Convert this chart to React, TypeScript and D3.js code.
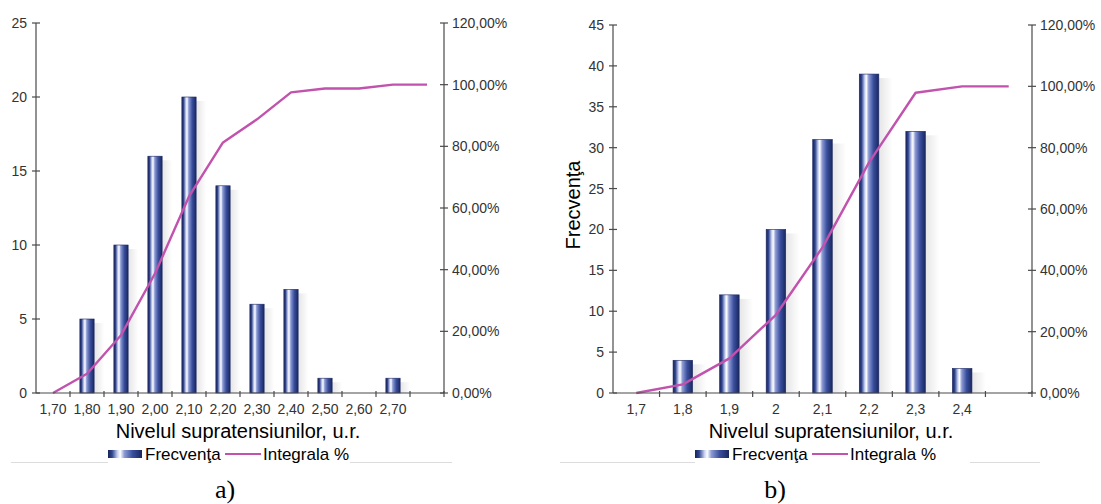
import React from "react";
import * as d3 from "d3";

// chart a)
const catsA = ["1,70", "1,80", "1,90", "2,00", "2,10", "2,20", "2,30", "2,40", "2,50", "2,60", "2,70", ""];
const freqA = [0, 5, 10, 16, 20, 14, 6, 7, 1, 0, 1, 0];
const integA = [0, 6.25, 18.75, 38.75, 63.75, 81.25, 88.75, 97.5, 98.75, 98.75, 100, 100];
const ticksA = [0, 5, 10, 15, 20, 25];

// chart b)
const catsB = ["1,7", "1,8", "1,9", "2", "2,1", "2,2", "2,3", "2,4", ""];
const freqB = [0, 4, 12, 20, 31, 39, 32, 3, 0];
const integB = [0, 2.8, 11.3, 25.5, 47.5, 75.2, 97.9, 100, 100];
const ticksB = [0, 5, 10, 15, 20, 25, 30, 35, 40, 45];

const pctTicks = [0, 20, 40, 60, 80, 100, 120];

const FONT = "'Liberation Sans', Arial, sans-serif";
const LINE = "#c152ad";
const fmtPct = (v: number) => d3.format(".2f")(v).replace(".", ",") + "%";

type ChartProps = {
  id: string;
  cats: string[];
  freq: number[];
  integ: number[];
  ticks: number[];
  x0: number;
  x1: number;
  top: number;
  bottom: number;
  titleX: number;
  legendX: number;
  yTitle?: string;
  yTitleX?: number;
  caption: string;
  captionX: number;
  gapFrom: number;
  gapTo: number;
  lineFrom: number;
  lineTo: number;
};

function Chart(p: ChartProps) {
  const x = d3.scaleBand<string>().domain(p.cats.map((c, i) => i + "|" + c)).range([p.x0, p.x1]).paddingInner(0).paddingOuter(0);
  const keys = x.domain();
  const bw = x.bandwidth();
  const barW = bw * 0.42;
  const y = d3.scaleLinear().domain([0, d3.max(p.ticks)!]).range([p.bottom, p.top]);
  const y2 = d3.scaleLinear().domain([0, 120]).range([p.bottom, p.top]);
  const line = d3
    .line<number>()
    .x((_, i) => x(keys[i])! + bw / 2)
    .y((d) => y2(d));
  const axisColor = "#4a4a4a";
  const labelColor = "#333";
  const lx = p.legendX;

  return (
    <g>
      <defs>
        <linearGradient id={p.id + "bar"} x1="0" x2="1" y1="0" y2="0">
          <stop offset="0%" stopColor="#17245a" />
          <stop offset="12%" stopColor="#30458f" />
          <stop offset="28%" stopColor="#c9d2f2" />
          <stop offset="36%" stopColor="#ffffff" />
          <stop offset="48%" stopColor="#8d9bd4" />
          <stop offset="72%" stopColor="#3a4f9e" />
          <stop offset="100%" stopColor="#18275f" />
        </linearGradient>
        <linearGradient id={p.id + "shadow"} x1="0" x2="1" y1="0" y2="0">
          <stop offset="0%" stopColor="#000" stopOpacity={0.1} />
          <stop offset="100%" stopColor="#000" stopOpacity={0} />
        </linearGradient>
      </defs>

      {/* bars */}
      {p.freq.map((v, i) =>
        v > 0 ? (
          <g key={"b" + i}>
            <rect
              x={x(keys[i])! + bw / 2 + barW / 2}
              y={y(v) + 4}
              width={bw * 0.3}
              height={p.bottom - y(v) - 4}
              fill={`url(#${p.id}shadow)`}
            />
            <rect
              x={x(keys[i])! + bw / 2 - barW / 2}
              y={y(v)}
              width={barW}
              height={p.bottom - y(v)}
              fill={`url(#${p.id}bar)`}
              stroke="#1a2660"
              strokeWidth={0.6}
            />
          </g>
        ) : null
      )}

      {/* cumulative line */}
      <path d={line(p.integ)!} fill="none" stroke={LINE} strokeWidth={2.4} strokeLinejoin="round" />

      {/* left axis */}
      <line x1={p.x0} x2={p.x0} y1={p.top} y2={p.bottom} stroke={axisColor} strokeWidth={1.2} />
      {p.ticks.map((t) => (
        <g key={"l" + t}>
          <line x1={p.x0 - 4} x2={p.x0 + 4} y1={y(t)} y2={y(t)} stroke={axisColor} strokeWidth={1.2} />
          <text x={p.x0 - 9} y={y(t) + 5} textAnchor="end" fontSize={14} fill={labelColor} fontFamily={FONT}>
            {t}
          </text>
        </g>
      ))}

      {/* right axis */}
      <line x1={p.x1} x2={p.x1} y1={p.top} y2={p.bottom} stroke={axisColor} strokeWidth={1.2} />
      {pctTicks.map((t) => (
        <g key={"r" + t}>
          <line x1={p.x1 - 4} x2={p.x1 + 4} y1={y2(t)} y2={y2(t)} stroke={axisColor} strokeWidth={1.2} />
          <text x={p.x1 + 8} y={y2(t) + 5} fontSize={14} fill={labelColor} fontFamily={FONT}>
            {fmtPct(t)}
          </text>
        </g>
      ))}

      {/* x axis */}
      <line x1={p.x0} x2={p.x1} y1={p.bottom} y2={p.bottom} stroke={axisColor} strokeWidth={1.2} />
      {keys.map((k, i) => (
        <g key={"x" + i}>
          <line x1={x(k)! + bw} x2={x(k)! + bw} y1={p.bottom - 2} y2={p.bottom + 4} stroke={axisColor} strokeWidth={1.2} />
          <text x={x(k)! + bw / 2} y={p.bottom + 21} textAnchor="middle" fontSize={14} fill={labelColor} fontFamily={FONT}>
            {p.cats[i]}
          </text>
        </g>
      ))}

      {/* axis titles */}
      <text x={p.titleX} y={438} textAnchor="middle" fontSize={20} fill="#000" fontFamily={FONT}>
        Nivelul supratensiunilor, u.r.
      </text>
      {p.yTitle ? (
        <text
          transform={`translate(${p.yTitleX},${(p.top + p.bottom) / 2 - 4}) rotate(-90)`}
          textAnchor="middle"
          fontSize={20}
          fill="#000"
          fontFamily={FONT}
        >
          {p.yTitle}
        </text>
      ) : null}

      {/* faint frame line under legend */}
      <line x1={p.lineFrom} x2={p.gapFrom} y1={462.5} y2={462.5} stroke="#dcdcdc" strokeWidth={1} />
      <line x1={p.gapTo} x2={p.lineTo} y1={462.5} y2={462.5} stroke="#dcdcdc" strokeWidth={1} />

      {/* legend */}
      <rect x={lx} y={450} width={34} height={8} fill={`url(#${p.id}bar)`} />
      <text x={lx + 37} y={460} fontSize={17} fill="#000" fontFamily={FONT}>
        Frecvenţa
      </text>
      <line x1={lx + 117} x2={lx + 153} y1={454} y2={454} stroke={LINE} strokeWidth={2.2} />
      <text x={lx + 155} y={460} fontSize={17} fill="#000" fontFamily={FONT}>
        Integrala %
      </text>

      {/* caption */}
      <text x={p.captionX} y={498} textAnchor="middle" fontSize={26} fill="#000" fontFamily="'Liberation Serif', 'Times New Roman', serif">
        {p.caption}
      </text>
    </g>
  );
}

export default function App() {
  return (
    <svg width={1101} height={504} style={{ position: "absolute", left: 0, top: 0, background: "#fff" }}>
      <rect width={1101} height={504} fill="#fff" />
      <Chart
        id="a"
        cats={catsA}
        freq={freqA}
        integ={integA}
        ticks={ticksA}
        x0={36}
        x1={444}
        top={23}
        bottom={393}
        titleX={238}
        legendX={108}
        caption="a)"
        captionX={225}
        lineFrom={11}
        gapFrom={108}
        gapTo={350}
        lineTo={452}
      />
      <Chart
        id="b"
        cats={catsB}
        freq={freqB}
        integ={integB}
        ticks={ticksB}
        x0={613}
        x1={1032}
        top={25}
        bottom={393}
        titleX={831}
        legendX={695}
        yTitle="Frecvenţa"
        yTitleX={580}
        caption="b)"
        captionX={775}
        lineFrom={560}
        gapFrom={695}
        gapTo={970}
        lineTo={1040}
      />
    </svg>
  );
}
